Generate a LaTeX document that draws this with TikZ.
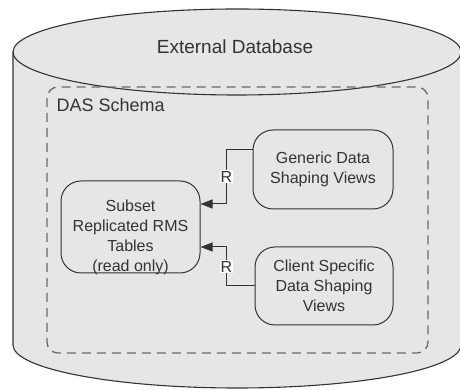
\documentclass[tikz,border=0pt]{standalone}
\usepackage{fontspec}
\setmainfont{Liberation Sans}
\usetikzlibrary{arrows.meta}
\definecolor{dbgray}{HTML}{E6E6E6}
\definecolor{inkgray}{HTML}{333333}
\definecolor{dashgray}{HTML}{6A6A6A}
\tikzset{
  dbline/.style={draw=inkgray, line width=1.1pt},
  schemabox/.style={draw=dashgray, line width=1.3pt, dash pattern=on 9pt off 6pt, rounded corners=11pt},
  tablebox/.style={draw=inkgray, fill=dbgray, line width=1pt, rounded corners=20pt, inner sep=0pt,
    align=center, font=\fontsize{16}{20}\selectfont, text=inkgray},
  boxtext/.style={align=center, font=\fontsize{16}{20}\selectfont, text=inkgray},
  link/.style={draw=inkgray, line width=1pt, -{Triangle[length=12pt,width=9pt]}},
  rlabel/.style={fill=white, inner sep=1pt, font=\fontsize{16}{18}\selectfont, text=inkgray}
}
\begin{document}
\begin{tikzpicture}[x=1pt,y=1pt]
  \useasboundingbox (0,0) rectangle (460,390);
  \clip (0,0) rectangle (460,390);
  % cylinder
  \fill[dbgray] (13,338) -- (13,45) arc[start angle=180, end angle=360, x radius=224, y radius=43] -- (461,338) -- cycle;
  \draw[dbline] (13,338) -- (13,45) arc[start angle=180, end angle=360, x radius=224, y radius=43] -- (461,338);
  \draw[dbline, fill=dbgray] (237,338) ellipse [x radius=224, y radius=43];
  \node[font=\fontsize{19}{22}\selectfont, text=inkgray] (dbname) at (235,343) {External Database};
  % schema
  \draw[schemabox] (47,303) rectangle (428,37);
  \node[anchor=west, font=\fontsize{18}{20}\selectfont, text=inkgray] (schema) at (53,285) {DAS Schema};
  % boxes
  \node[tablebox, minimum width=139pt, minimum height=92pt,
    label={[boxtext, yshift=-10pt]center:Subset\\Replicated RMS\\Tables\\(read only)}] (sub) at (130.5,163) {};
  \node[tablebox, minimum width=140pt, minimum height=79pt] (gen) at (323,220.5) {Generic Data\\Shaping Views};
  \node[tablebox, minimum width=138pt, minimum height=78pt] (cli) at (324,104) {Client Specific\\Data Shaping\\Views};
  % links
  \draw[link] ([yshift=20pt]gen.west) -- ++(-26,0) |- node[rlabel, pos=0.25] {R} ([yshift=23pt]sub.east);
  \draw[link] (cli.west) -- ++(-28,0) |- node[rlabel, pos=0.25] {R} ([yshift=-20pt]sub.east);
\end{tikzpicture}
\end{document}
